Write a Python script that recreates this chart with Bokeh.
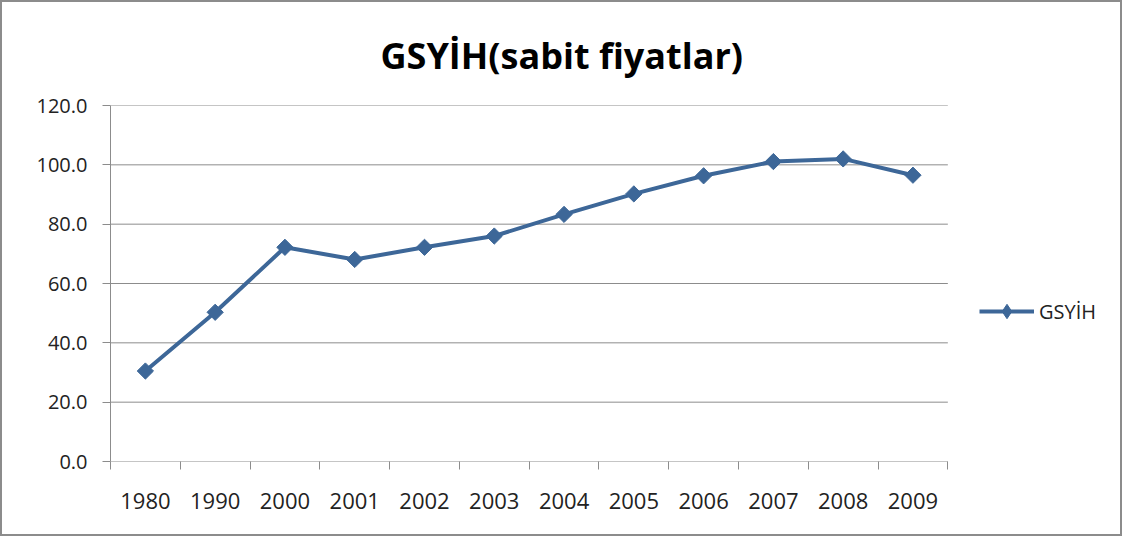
import numpy as np
from bokeh.plotting import figure
from bokeh.models import (Range1d, FixedTicker, PrintfTickFormatter, Legend, LegendItem, Title)
from bokeh.embed import file_html
from bokeh.resources import INLINE

years = ["1980", "1990", "2000", "2001", "2002", "2003", "2004", "2005", "2006", "2007", "2008", "2009"]
gsyih = [30.5, 50.3, 72.2, 68.1, 72.2, 76.0, 83.3, 90.2, 96.3, 101.1, 102.0, 96.5]
series_name = "GSYİH"
title_text = "GSYİH(sabit fiyatlar)"
y_ticks = [0, 20, 40, 60, 80, 100, 120]

FONT = "Open Sans"
LINE_COLOR = "#3D6798"
GRID = "#8C8C8C"

# layout (pixels)
W, H, BORDER = 1122, 536, 2
MB_LEFT, MB_RIGHT, MB_TOP, MB_BOTTOM = 108, 8, 103, 77
PLOT_AREA_W = 834          # width of the gridded plot area
frame_w = W - 2 * BORDER - MB_LEFT - MB_RIGHT

n = len(years)
xpos = [i + 0.5 for i in range(n)]
x_end = n * frame_w / PLOT_AREA_W

p = figure(width=W, height=H, output_backend="svg", toolbar_location=None,
           x_range=Range1d(0, x_end), y_range=Range1d(0, 120),
           min_border_left=MB_LEFT, min_border_right=MB_RIGHT,
           min_border_top=MB_TOP, min_border_bottom=MB_BOTTOM)

p.title = Title(text=title_text, align="left", offset=270, standoff=52,
                text_font=FONT, text_font_size="36px", text_font_style="bold", text_color="#000000")

p.outline_line_color = None
p.border_fill_color = "white"

# horizontal gridlines and baseline limited to the category area
p.segment(x0=[0] * len(y_ticks), x1=[n] * len(y_ticks), y0=y_ticks, y1=y_ticks,
          line_color=GRID, line_width=1)

r_line = p.line(xpos, gsyih, line_color=LINE_COLOR, line_width=4)
r_pts = p.scatter(xpos, gsyih, marker="square", angle=np.pi / 4, size=11.5,
                  fill_color=LINE_COLOR, line_color=LINE_COLOR)
# marker shown only in the legend (its single point is NaN, so nothing is plotted)
r_leg = p.scatter(x=[np.nan], y=[np.nan], marker="diamond", size=18,
                  fill_color=LINE_COLOR, line_color=LINE_COLOR)

# X axis: labels at category centres, tick marks at category boundaries
p.xaxis.ticker = FixedTicker(ticks=xpos, minor_ticks=list(range(n + 1)))
p.xaxis.major_label_overrides = {x: y for x, y in zip(xpos, years)}
p.xaxis.major_tick_out = 0
p.xaxis.major_tick_in = 0
p.xaxis.minor_tick_out = 8
p.xaxis.minor_tick_in = 0
p.xaxis.minor_tick_line_color = GRID
p.xaxis.axis_line_color = None
p.xaxis.major_label_text_font = FONT
p.xaxis.major_label_text_font_size = "22px"
p.xaxis.major_label_text_color = "#222222"
p.xaxis.major_label_standoff = 23

p.yaxis.ticker = FixedTicker(ticks=y_ticks)
p.yaxis.formatter = PrintfTickFormatter(format="%.1f")
p.yaxis.major_tick_out = 8
p.yaxis.major_tick_in = 0
p.yaxis.minor_tick_out = 0
p.yaxis.minor_tick_in = 0
p.yaxis.major_tick_line_color = GRID
p.yaxis.axis_line_color = GRID
p.yaxis.major_label_text_font = FONT
p.yaxis.major_label_text_font_size = "20px"
p.yaxis.major_label_text_color = "#222222"
p.yaxis.major_label_standoff = 15

p.xgrid.grid_line_color = None
p.ygrid.grid_line_color = None

legend = Legend(items=[LegendItem(label=series_name, renderers=[r_line, r_leg])],
                location=(PLOT_AREA_W + 35, 132), orientation="vertical",
                padding=0, margin=0, spacing=0,
                glyph_width=55, glyph_height=36, label_height=36,
                label_standoff=5,
                label_text_font=FONT, label_text_font_size="20px", label_text_color="#222222",
                border_line_color=None, background_fill_alpha=0)
p.add_layout(legend, "center")

p.styles = {"border": f"{BORDER}px solid #8C8C8C", "box-sizing": "border-box"}

open("out.html", "w").write(file_html(p, INLINE))
